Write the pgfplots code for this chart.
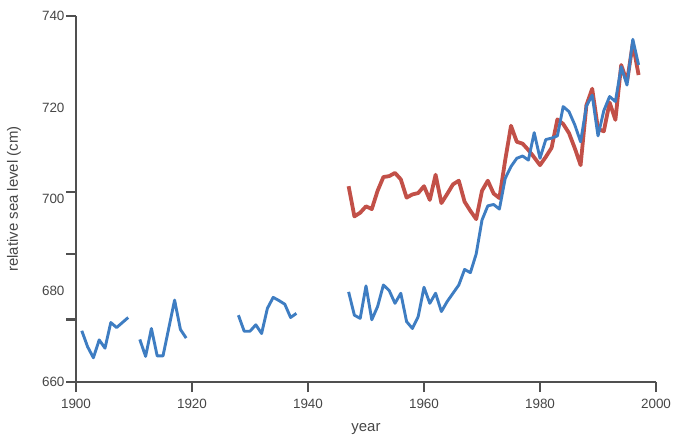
\documentclass[border=0pt]{standalone}
\usepackage{fontspec}
\setmainfont{Liberation Sans}
\usepackage{pgfplots}
\pgfplotsset{compat=1.18}
\definecolor{axisgray}{RGB}{80,80,80}
\definecolor{textgray}{RGB}{70,70,70}
\definecolor{seablue}{RGB}{62,125,194}
\definecolor{seared}{RGB}{194,80,72}
\begin{document}
\begin{tikzpicture}
\begin{axis}[
    name=ax,
    scale only axis,
    width=580bp, height=366bp,
    xmin=1900, xmax=2000, ymin=660, ymax=740,
    axis x line*=bottom, axis y line*=left,
    axis line style={line width=2.6bp, color=axisgray, -},
    tick align=outside,
    major tick length=10bp,
    tick style={line width=2.6bp, color=axisgray},
    xtick={1900,1920,...,2000},
    ytick={660,673.6,688,701.5,740},
    yticklabels={,,,,},
    extra y ticks={660,680,700,720,740},
    extra y tick labels={660,680,700,720,740},
    extra y tick style={major tick length=0pt},
    yticklabel style={xshift=-8bp},
    xticklabel style={yshift=-4bp},
    /pgf/number format/assume math mode=true,
    /pgf/number format/1000 sep={},
    tick label style={font=\fontsize{13.5}{16}\selectfont, color=textgray},
    unbounded coords=jump,
]
\addplot[seared, line width=3.8bp, line join=round] coordinates {
(1947,702.8) (1948,696.2) (1949,697.0) (1950,698.4) (1951,697.8) (1952,701.8)
(1953,704.8) (1954,705.0) (1955,705.7) (1956,704.3) (1957,700.3) (1958,701.0)
(1959,701.3) (1960,702.8) (1961,699.8) (1962,705.3) (1963,699.1) (1964,701.1)
(1965,703.2) (1966,704.0) (1967,699.4) (1968,697.4) (1969,695.6) (1970,701.8)
(1971,704.0) (1972,701.2) (1973,700.2) (1974,708.5) (1975,716.0) (1976,712.5)
(1977,712.1) (1978,710.7) (1979,709.1) (1980,707.4) (1981,709.2) (1982,711.2)
(1983,717.4) (1984,716.4) (1985,714.4) (1986,711.1) (1987,707.4) (1988,720.5)
(1989,724.1) (1990,715.3) (1991,714.8) (1992,721.1) (1993,717.3) (1994,729.3)
(1995,725.6) (1996,734.0) (1997,727.1)
};
\addplot[seablue, line width=2.9bp, line join=round] coordinates {
(1901,671.2) (1902,667.7) (1903,665.3) (1904,669.2) (1905,667.4) (1906,673.0)
(1907,671.9) (1908,673.0) (1909,674.1) (1910,nan)
(1911,669.3) (1912,665.6) (1913,671.7) (1914,665.7) (1915,665.7) (1916,671.8)
(1917,677.9) (1918,671.5) (1919,669.6) (1920,nan)
(1928,674.6) (1929,671.1) (1930,671.1) (1931,672.5) (1932,670.6) (1933,676.1)
(1934,678.5) (1935,677.8) (1936,677.0) (1937,674.1) (1938,675.0) (1939,nan)
(1947,679.7) (1948,674.6) (1949,673.9) (1950,681.0) (1951,673.6) (1952,676.5)
(1953,681.2) (1954,680.0) (1955,677.2) (1956,679.4) (1957,673.2) (1958,671.7)
(1959,674.3) (1960,680.7) (1961,677.2) (1962,679.4) (1963,675.4) (1964,677.6)
(1965,679.4) (1966,681.2) (1967,684.6) (1968,683.9) (1969,688.0) (1970,695.4)
(1971,698.5) (1972,698.8) (1973,697.8) (1974,704.5) (1975,707.1) (1976,708.9)
(1977,709.4) (1978,708.5) (1979,714.5) (1980,708.9) (1981,713.0) (1982,713.3)
(1983,713.8) (1984,720.2) (1985,719.1) (1986,716.2) (1987,712.5) (1988,720.3)
(1989,722.7) (1990,713.8) (1991,719.3) (1992,722.4) (1993,721.3) (1994,728.9)
(1995,724.9) (1996,734.9) (1997,729.3)
};
\end{axis}
% axis labels, placed from the axis box
\node[rotate=90, font=\fontsize{15}{18}\selectfont, text=textgray]
  at ([xshift=-62bp]ax.west) {relative sea level (cm)};
\node[font=\fontsize{15}{18}\selectfont, text=textgray]
  at ([yshift=-47bp]ax.south) {year};
\pgfresetboundingbox
\path ([shift={(-76bp,-55bp)}]ax.south west) rectangle ([shift={(17bp,16bp)}]ax.north east);
\end{tikzpicture}
\end{document}
